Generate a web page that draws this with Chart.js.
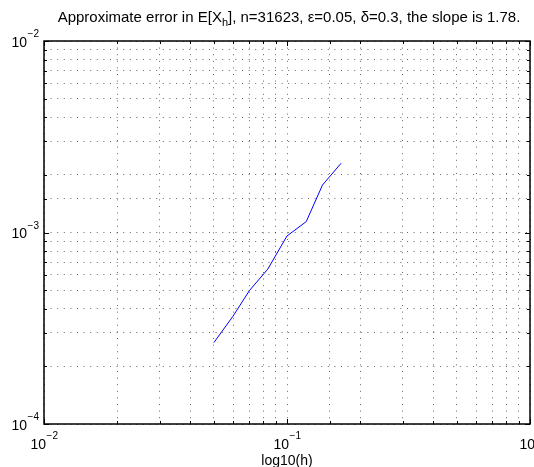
<!DOCTYPE html>
<html>
<head>
<meta charset="utf-8">
<script src="https://cdn.jsdelivr.net/npm/chart.js@4"></script>
<style>
  html, body { margin: 0; padding: 0; background: #fff; }
  #wrap { width: 534px; height: 467px; }
</style>
</head>
<body>
<div id="wrap"><canvas id="c" width="534" height="467"></canvas></div>
<script>
// ---- data ----
const hValues = [0.05, 0.06, 0.07, 0.0833, 0.1, 0.12, 0.14, 0.167];
const errorValues = [2.66e-4, 3.66e-4, 4.97e-4, 6.43e-4, 9.59e-4, 1.14e-3, 1.77e-3, 2.30e-3];
const xTickExponents = [-2, -1, 0];
const yTickExponents = [-4, -3, -2];
const titleParts = ["Approximate error in E[X", "h", "], n=31623, \u03b5=0.05, \u03b4=0.3, the slope is 1.78."];
const xLabel = "log10(h)";

const FONT = '"Liberation Sans", Arial, Helvetica, sans-serif';
const BASE_PX = 14, EXP_PX = 10, TITLE_PX = 15, SUB_PX = 11;

const matlabPlugin = {
  id: 'matlab',
  afterDraw(chart) {
    const ctx = chart.ctx;
    const area = chart.chartArea;
    const xs = chart.scales.x, ys = chart.scales.y;
    ctx.save();
    ctx.strokeStyle = '#000';
    ctx.lineWidth = 1;
    ctx.setLineDash([]);
    // inner ticks
    const isMajor = v => Math.abs(Math.log10(v) - Math.round(Math.log10(v))) < 1e-6;
    xs.ticks.forEach(t => {
      const px = Math.round(xs.getPixelForValue(t.value)) + 0.5;
      const len = isMajor(t.value) ? 5 : 3;
      ctx.beginPath();
      ctx.moveTo(px, area.bottom); ctx.lineTo(px, area.bottom - len);
      ctx.moveTo(px, area.top); ctx.lineTo(px, area.top + len);
      ctx.stroke();
    });
    ys.ticks.forEach(t => {
      const py = Math.round(ys.getPixelForValue(t.value)) + 0.5;
      const len = isMajor(t.value) ? 5 : 3;
      ctx.beginPath();
      ctx.moveTo(area.left, py); ctx.lineTo(area.left + len, py);
      ctx.moveTo(area.right, py); ctx.lineTo(area.right - len, py);
      ctx.stroke();
    });
    // frame
    ctx.lineWidth = 1.5;
    ctx.strokeRect(Math.round(area.left), Math.round(area.top),
                   Math.round(area.right - area.left), Math.round(area.bottom - area.top));

    ctx.fillStyle = '#000';
    ctx.textBaseline = 'alphabetic';
    ctx.textAlign = 'left';
    // x tick labels
    xTickExponents.forEach(e => {
      const px = xs.getPixelForValue(Math.pow(10, e));
      ctx.font = BASE_PX + 'px ' + FONT;
      const bw = ctx.measureText('10').width;
      ctx.font = EXP_PX + 'px ' + FONT;
      const exp = (e < 0 ? '\u2212' : '') + Math.abs(e);
      const ew = ctx.measureText(exp).width;
      const start = px - (bw + ew) / 2;
      ctx.font = BASE_PX + 'px ' + FONT;
      ctx.fillText('10', start, area.bottom + 25);
      ctx.font = EXP_PX + 'px ' + FONT;
      ctx.fillText(exp, start + bw + 0.5, area.bottom + 15);
    });
    // y tick labels
    yTickExponents.forEach(e => {
      const py = ys.getPixelForValue(Math.pow(10, e));
      ctx.font = EXP_PX + 'px ' + FONT;
      const exp = (e < 0 ? '\u2212' : '') + Math.abs(e);
      const ew = ctx.measureText(exp).width;
      ctx.font = BASE_PX + 'px ' + FONT;
      const bw = ctx.measureText('10').width;
      const endX = area.left - 5;
      ctx.fillText('10', endX - ew - bw - 0.5, py + 5.5);
      ctx.font = EXP_PX + 'px ' + FONT;
      ctx.fillText(exp, endX - ew, py - 4);
    });
    // title with subscript
    const cx = (area.left + area.right) / 2;
    ctx.font = TITLE_PX + 'px ' + FONT;
    const w0 = ctx.measureText(titleParts[0]).width;
    const w2 = ctx.measureText(titleParts[2]).width;
    ctx.font = SUB_PX + 'px ' + FONT;
    const w1 = ctx.measureText(titleParts[1]).width;
    const tx = cx - (w0 + w1 + w2) / 2 + 2;
    ctx.font = TITLE_PX + 'px ' + FONT;
    ctx.fillText(titleParts[0], tx, 22);
    ctx.font = SUB_PX + 'px ' + FONT;
    ctx.fillText(titleParts[1], tx + w0, 26);
    ctx.font = TITLE_PX + 'px ' + FONT;
    ctx.fillText(titleParts[2], tx + w0 + w1, 22);
    // x axis label
    ctx.textAlign = 'center';
    ctx.font = BASE_PX + 'px ' + FONT;
    ctx.fillText(xLabel, cx, area.bottom + 41);
    ctx.restore();
  }
};

new Chart(document.getElementById('c'), {
  type: 'line',
  data: {
    datasets: [{
      data: hValues.map((h, i) => ({ x: h, y: errorValues[i] })),
      borderColor: '#0000ff',
      borderWidth: 1,
      pointRadius: 0,
      tension: 0,
      fill: false
    }]
  },
  options: {
    responsive: false,
    animation: false,
    devicePixelRatio: 1,
    layout: { padding: { left: 44, top: 41, right: 4, bottom: 43 } },
    plugins: { legend: { display: false }, title: { display: false }, tooltip: { enabled: false } },
    scales: {
      x: {
        type: 'logarithmic', min: 0.01, max: 1,
        ticks: { display: false },
        grid: { color: 'rgba(0,0,0,0.6)', lineWidth: 1, drawTicks: false },
        border: { display: false, dash: [1, 5.6] }
      },
      y: {
        type: 'logarithmic', min: 1e-4, max: 1e-2,
        ticks: { display: false },
        grid: { color: 'rgba(0,0,0,0.6)', lineWidth: 1, drawTicks: false },
        border: { display: false, dash: [1, 5.6] }
      }
    }
  },
  plugins: [matlabPlugin]
});
</script>
</body>
</html>
